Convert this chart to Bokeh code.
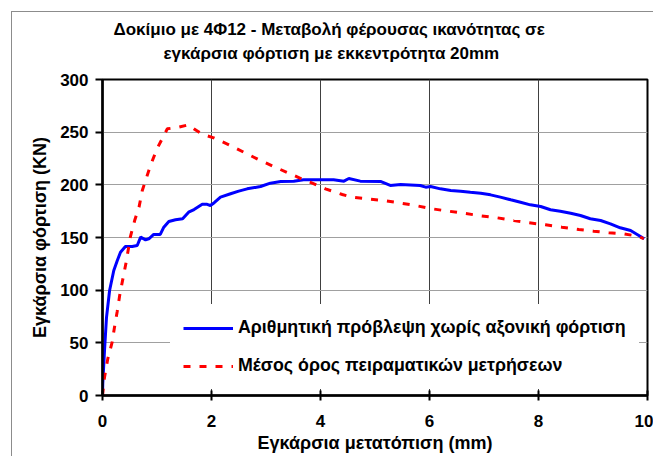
from bokeh.plotting import figure
from bokeh.models import Legend, LegendItem, Title
from bokeh.embed import file_html
from bokeh.resources import INLINE

# ---- data ----
num_x = [0, 0.005, 0.037, 0.073, 0.13, 0.207, 0.27, 0.33, 0.42, 0.545, 0.637, 0.70, 0.79, 0.85,
         0.94, 1.06, 1.125, 1.217, 1.34, 1.47, 1.58, 1.68, 1.83, 1.92, 1.98, 2.05, 2.165, 2.35,
         2.50, 2.655, 2.90, 3.08, 3.27, 3.51, 3.69, 4.0, 4.24, 4.43, 4.52, 4.73, 5.10, 5.28,
         5.47, 5.83, 5.93, 6.02, 6.20, 6.39, 6.57, 6.75, 6.94, 7.12, 7.30, 7.49, 7.67, 7.85,
         8.04, 8.22, 8.40, 8.59, 8.77, 8.95, 9.14, 9.32, 9.50, 9.69, 9.81, 9.94]
num_y = [0, 11.4, 42.7, 74, 99.7, 118.7, 128, 136, 141.5, 141.5, 142.4, 150.3, 147.8, 148.8,
         152.9, 152.9, 159.8, 165.2, 166.8, 167.8, 174, 176.5, 181.5, 181.5, 180.4, 183, 188.3, 191.5,
         194, 196.2, 198.4, 201.6, 203.2, 203.5, 204.8, 204.8, 204.8, 203.5, 206, 203.5, 203.2, 199.4,
         200.3, 199.4, 197.8, 198.4, 196.2, 194.6, 194, 193, 192, 190.5, 188.3, 185.8, 183.5, 181,
         179.4, 176.3, 175, 173, 170.9, 167.8, 166.1, 163, 159.2, 156.6, 152.9, 148.8]

exp_x = [0, 0.037, 0.097, 0.177, 0.22, 0.27, 0.32, 0.38, 0.44, 0.51, 0.59, 0.67, 0.73, 0.80,
         0.88, 1.0, 1.125, 1.19, 1.40, 1.58, 1.675, 1.83, 2.04, 2.32, 2.59, 2.87, 3.14, 3.42,
         3.69, 3.85, 4.09, 4.40, 4.58, 4.86, 5.16, 5.47, 5.74, 6.05, 6.35, 6.63, 6.94, 7.24,
         7.55, 7.82, 8.13, 8.43, 8.74, 9.01, 9.29, 9.57, 9.84, 9.93]
exp_y = [0, 17.4, 34.8, 50.6, 64.8, 79.7, 96.5, 112.3, 128.2, 150.3, 166.1, 178.8, 194.6, 205.7,
         218.4, 234.2, 246.8, 253.2, 254.7, 257, 253.2, 248, 244.6, 238, 231, 223.8, 217.4, 211,
         204.8, 201.6, 196.2, 190.8, 188.3, 186.7, 185.1, 182.6, 180.4, 177.2, 175, 173, 170.6, 168.7,
         166.1, 164, 162, 159.8, 157.6, 156, 154.5, 153.5, 151, 148.8]

x_ticks = [0, 2, 4, 6, 8, 10]
y_ticks = [0, 50, 100, 150, 200, 250, 300]

title_lines = ["Δοκίμιο με 4Φ12 - Μεταβολή φέρουσας ικανότητας σε",
               "εγκάρσια φόρτιση με εκκεντρότητα 20mm"]
x_title = "Εγκάρσια μετατόπιση (mm)"
y_title = "Εγκάρσια φόρτιση (KN)"
series_names = ["Αριθμητική πρόβλεψη χωρίς αξονική φόρτιση",
                "Μέσος όρος πειραματικών μετρήσεων"]

FONT = "Liberation Sans"
FRAME_GRAY = "#8c8c8c"

p = figure(width=653, height=456, output_backend="svg", toolbar_location=None,
           x_range=(0, 10), y_range=(0, 300),
           min_border_left=102, min_border_right=6, min_border_top=79, min_border_bottom=61)
p.background_fill_color = "white"
p.border_fill_alpha = 0
p.outline_line_color = "black"
p.outline_line_width = 2
# outer chart-area frame (left and top edges) drawn behind the transparent canvas border
p.styles = {
    "background-color": "white",
    "background-image": f"linear-gradient({FRAME_GRAY}, {FRAME_GRAY}), linear-gradient({FRAME_GRAY}, {FRAME_GRAY})",
    "background-size": "1px 100%, 100% 1px",
    "background-position": "11px 11px, 11px 11px",
    "background-repeat": "no-repeat",
}

# grids
p.xgrid.ticker = x_ticks
p.ygrid.ticker = y_ticks
p.xgrid.grid_line_color = "#404040"
p.xgrid.grid_line_width = 1
p.ygrid.grid_line_color = "#a0a0a0"
p.ygrid.grid_line_width = 1

# axes
for ax in (p.xaxis[0], p.yaxis[0]):
    ax.axis_line_color = "black"
    ax.axis_line_width = 2.5
    ax.major_tick_line_color = "black"
    ax.major_tick_line_width = 2
    ax.minor_tick_line_color = None
    ax.major_label_text_font = FONT
    ax.major_label_text_font_size = "17px"
    ax.major_label_text_font_style = "bold"
    ax.major_label_text_color = "black"
    ax.axis_label_text_font = FONT
    ax.axis_label_text_font_size = "18px"
    ax.axis_label_text_font_style = "bold"
    ax.axis_label_text_color = "black"
p.xaxis.ticker = x_ticks
p.yaxis.ticker = y_ticks
p.xaxis.major_tick_in = 5
p.xaxis.major_tick_out = 5
p.xaxis.major_label_standoff = 14
p.xaxis.axis_label = x_title
p.xaxis.axis_label_standoff = 3
p.yaxis.major_tick_in = 0
p.yaxis.major_tick_out = 7
p.yaxis.major_label_standoff = 7
p.yaxis.axis_label = y_title
p.yaxis.axis_label_standoff = 7

# series
r_num = p.line(num_x, num_y, line_color="#0000ff", line_width=3)
r_exp = p.line(exp_x, exp_y, line_color="#ff0000", line_width=3, line_dash="7 9")

legend = Legend(items=[LegendItem(label=series_names[0], renderers=[r_num]),
                       LegendItem(label=series_names[1], renderers=[r_exp])],
                location=(68, 6), margin=0, padding=13, spacing=17,
                glyph_width=50, glyph_height=20, label_height=20, label_standoff=5,
                label_text_font=FONT, label_text_font_size="17.8px", label_text_font_style="bold",
                label_text_color="black",
                background_fill_color="white", background_fill_alpha=1.0,
                border_line_alpha=0)
p.add_layout(legend, "center")

# blank spacer between the frame and the two-line chart title
spacer = Title(text=" ", standoff=4, text_font=FONT, text_font_size="10px")
t2 = Title(text=title_lines[1], align="left", offset=61, standoff=0, vertical_align="bottom",
           text_font=FONT, text_font_size="17px", text_font_style="bold", text_color="black")
t1 = Title(text=title_lines[0], align="left", offset=11, standoff=6, vertical_align="bottom",
           text_font=FONT, text_font_size="17px", text_font_style="bold", text_color="black")
p.add_layout(spacer, "above")
p.add_layout(t2, "above")
p.add_layout(t1, "above")

open("out.html", "w").write(file_html(p, INLINE))
